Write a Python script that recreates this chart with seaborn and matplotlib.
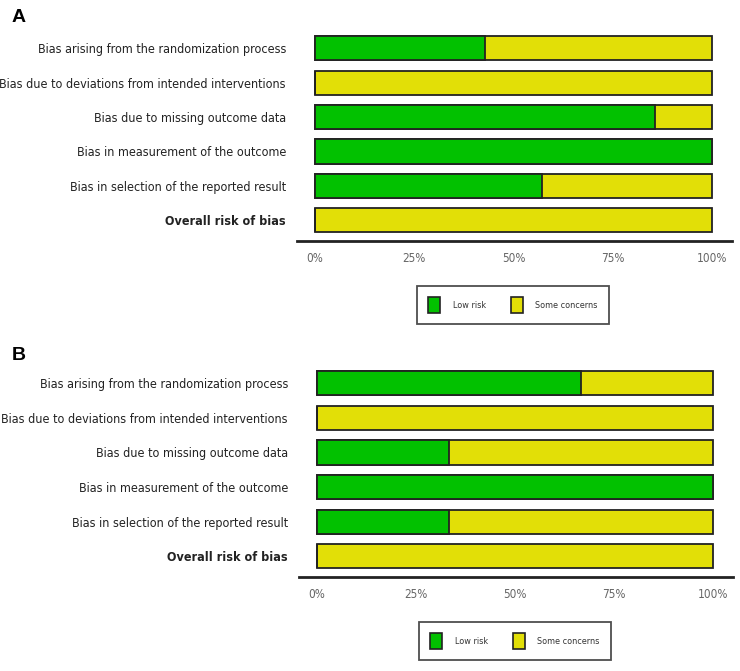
import matplotlib
matplotlib.use("Agg")
import matplotlib.pyplot as plt
from matplotlib.patches import Patch
import seaborn as sns
import pandas as pd

domains = [
    "Bias arising from the randomization process",
    "Bias due to deviations from intended interventions",
    "Bias due to missing outcome data",
    "Bias in measurement of the outcome",
    "Bias in selection of the reported result",
    "Overall risk of bias",
]
low_risk_A = [42.9, 0.0, 85.7, 100.0, 57.1, 0.0]
low_risk_B = [66.7, 0.0, 33.3, 100.0, 33.3, 0.0]
total = [100.0] * 6
tick_vals = [0, 25, 50, 75, 100]
tick_labels = ["0%", "25%", "50%", "75%", "100%"]
legend_labels = ["Low risk", "Some concerns"]
panel_letters = ["A", "B"]

GREEN = "#02C100"
YELLOW = "#E2DF07"

sns.set_style("white")
FAM = ["DejaVu Sans"]
plt.rcParams["font.family"] = FAM

W, H = 740, 671
fig = plt.figure(figsize=(W / 100, H / 100), dpi=100)


def px_axes(left, top, right, bottom):
    return fig.add_axes([left / W, 1 - bottom / H, (right - left) / W, (bottom - top) / H])


def panel(ax, low, letter, letter_y, legend_y, legend_x):
    df = pd.DataFrame({"domain": domains, "total": total, "low": low})
    sns.barplot(data=df, x="total", y="domain", orient="h", color=YELLOW,
                saturation=1, edgecolor="#222222", linewidth=1.3, width=0.7, ax=ax)
    sns.barplot(data=df, x="low", y="domain", orient="h", color=GREEN,
                saturation=1, edgecolor="#222222", linewidth=1.3, width=0.7, ax=ax)
    ax.set_xlim(-4.5, 105)
    ax.set_ylim(5.6, -0.5)
    ax.set_xlabel("")
    ax.set_ylabel("")
    for s in ["top", "right", "left"]:
        ax.spines[s].set_visible(False)
    ax.spines["bottom"].set_linewidth(2.0)
    ax.spines["bottom"].set_color("#222222")
    ax.set_xticks(tick_vals)
    ax.set_xticklabels(tick_labels, color="#666666", fontsize=8.5,
                       fontstretch="condensed")
    ax.tick_params(axis="x", length=3, width=0.8, color="#888888", pad=5)
    ax.tick_params(axis="y", length=0, pad=8)
    ax.set_yticks(range(len(domains)))
    ax.set_yticklabels(domains, fontsize=9, color="#222222",
                       fontstretch="condensed")
    ax.get_yticklabels()[-1].set_fontweight("bold")
    ax.grid(False)
    fig.text(12 / W, 1 - letter_y / H, letter, fontsize=14, fontweight="bold",
             family=["Liberation Sans", "DejaVu Sans"], va="center", ha="left",
             color="black")
    handles = [Patch(facecolor=GREEN, edgecolor="#222222", linewidth=1.2),
               Patch(facecolor=YELLOW, edgecolor="#222222", linewidth=1.2)]
    leg = fig.legend(handles, legend_labels, ncol=2, loc="center",
                     bbox_to_anchor=(legend_x / W, 1 - legend_y / H),
                     prop={"size": 6.5, "stretch": "condensed"},
                     frameon=True, fancybox=False,
                     handlelength=1.3, handleheight=2.5, handletextpad=1.4,
                     columnspacing=2.8, borderpad=1.2, edgecolor="#222222")
    leg.get_frame().set_linewidth(1.3)
    for t in leg.get_texts():
        t.set_color("#333333")


axA = px_axes(297, 31, 732, 241)
panel(axA, low_risk_A, panel_letters[0], 18, 305, 513)
axB = px_axes(299, 366, 733, 577)
panel(axB, low_risk_B, panel_letters[1], 355, 641, 515)

fig.savefig("out.png", dpi=100, facecolor="white")
